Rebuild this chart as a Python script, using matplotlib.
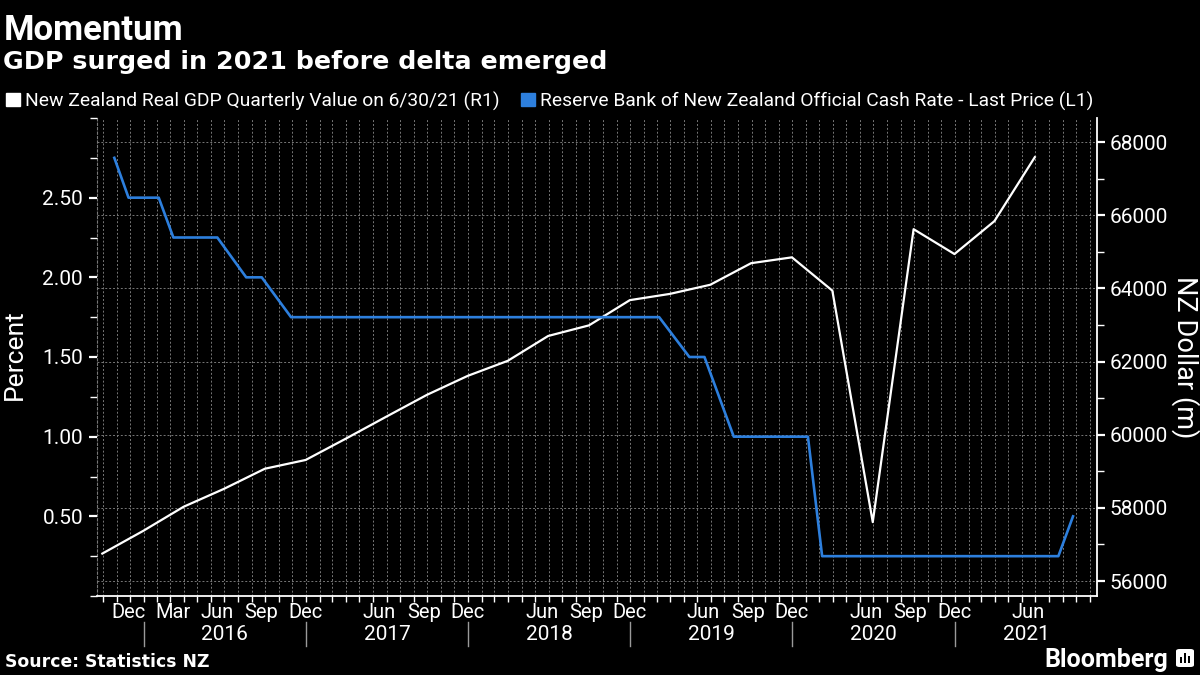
import matplotlib
matplotlib.use('Agg')
import matplotlib.pyplot as plt
import matplotlib.dates as mdates
import matplotlib.ticker as mticker
import matplotlib.transforms as mtransforms
from matplotlib.patches import Patch, FancyBboxPatch, Rectangle
import pandas as pd

plt.rcParams['font.family'] = ['Roboto', 'DejaVu Sans']

# NZ real GDP, quarterly, NZ$m (right axis)
gdp_dates = ['2015-09-30', '2015-12-31', '2016-03-31', '2016-06-30', '2016-09-30', '2016-12-31',
             '2017-03-31', '2017-06-30', '2017-09-30', '2017-12-31', '2018-03-31', '2018-06-30',
             '2018-09-30', '2018-12-31', '2019-03-31', '2019-06-30', '2019-09-30', '2019-12-31',
             '2020-03-31', '2020-06-30', '2020-09-30', '2020-12-31', '2021-03-31', '2021-06-30']
gdp_values = [56750, 57370, 58030, 58520, 59070, 59310,
              59890, 60490, 61090, 61610, 62020, 62700,
              62990, 63680, 63850, 64100, 64690, 64850,
              63940, 57610, 65620, 64940, 65840, 67590]

# RBNZ official cash rate, % (left axis)
ocr_dates = ['2015-10-27', '2015-11-28', '2016-02-04', '2016-03-08', '2016-06-15', '2016-08-19',
             '2016-09-23', '2016-11-28', '2019-03-07', '2019-05-14', '2019-06-17', '2019-08-22',
             '2020-02-05', '2020-03-08', '2021-08-22', '2021-09-24']
ocr_values = [2.75, 2.50, 2.50, 2.25, 2.25, 2.00,
              2.00, 1.75, 1.75, 1.50, 1.50, 1.00,
              1.00, 0.25, 0.25, 0.50]

# x axis labels
month_tick_dates = ['2015-11-28', '2016-03-07', '2016-06-15', '2016-09-22', '2016-12-31',
                    '2017-06-15', '2017-09-24', '2017-12-31', '2018-06-16', '2018-09-23', '2018-12-31',
                    '2019-06-15', '2019-09-23', '2019-12-31', '2020-06-16', '2020-09-23', '2020-12-31',
                    '2021-06-14']
month_tick_labels = ['Dec', 'Mar', 'Jun', 'Sep', 'Dec',
                     'Jun', 'Sep', 'Dec', 'Jun', 'Sep', 'Dec',
                     'Jun', 'Sep', 'Dec', 'Jun', 'Sep', 'Dec',
                     'Jun']
years = [2016, 2017, 2018, 2019, 2020, 2021]

x_start = pd.Timestamp('2015-09-18')
x_end = pd.Timestamp('2021-11-17')

white = '#ffffff'
blue = '#2d7fdd'
gridc = '#777777'
bold_font = ['DejaVu Sans']

fig = plt.figure(figsize=(12, 6.75), dpi=100, facecolor='black')
ax = fig.add_axes([97/1200, 79/675, 1000/1200, 478/675])
ax.set_facecolor('black')
ax2 = ax.twinx()

# GDP on the right-hand scale
ax.plot(pd.to_datetime(gdp_dates), gdp_values, color=white, lw=1.6, zorder=3)
ax.yaxis.tick_right()
ax.yaxis.set_label_position('right')
ax.set_ylim(55590, 68660)
ax.yaxis.set_major_locator(mticker.FixedLocator([56000, 58000, 60000, 62000, 64000, 66000, 68000]))
ax.yaxis.set_minor_locator(mticker.MultipleLocator(1000))
ax.yaxis.set_major_formatter(mticker.FuncFormatter(lambda v, p: '%d' % v))

# OCR on the left-hand scale
ax2.plot(pd.to_datetime(ocr_dates), ocr_values, color=blue, lw=1.9, zorder=3)
ax2.yaxis.tick_left()
ax2.set_ylim(0, 3)
ax2.yaxis.set_major_locator(mticker.FixedLocator([0.5, 1.0, 1.5, 2.0, 2.5]))
ax2.yaxis.set_minor_locator(mticker.MultipleLocator(0.25))
ax2.yaxis.set_major_formatter(mticker.FormatStrFormatter('%.2f'))

ax.set_xlim(x_start, x_end)
ax.xaxis.set_major_locator(mticker.FixedLocator(mdates.date2num(pd.to_datetime(month_tick_dates))))
ax.xaxis.set_major_formatter(mticker.FixedFormatter(month_tick_labels))
ax.xaxis.set_minor_locator(mdates.MonthLocator())

# grid
ax.grid(which='minor', axis='x', color=gridc, lw=0.7, linestyle=(0, (2, 2)))
ax.grid(which='major', axis='y', color=gridc, lw=0.7, linestyle=(0, (2, 2)))

for a in (ax, ax2):
    for s in a.spines.values():
        s.set_visible(False)
ax.spines['right'].set_visible(True)
ax.spines['right'].set_color(white)
ax.spines['right'].set_linewidth(1.3)
ax.spines['bottom'].set_visible(True)
ax.spines['bottom'].set_color(white)
ax.spines['bottom'].set_linewidth(1.3)
ax.spines['left'].set_visible(True)
ax.spines['left'].set_color(gridc)
ax.spines['left'].set_linewidth(0.8)
ax.spines['left'].set_linestyle((0, (2, 2)))

ax.tick_params(axis='x', which='major', length=0, pad=5, labelsize=14.5, labelcolor=white)
ax.tick_params(axis='x', which='minor', length=4, width=1, color=white, direction='out')
ax.tick_params(axis='y', which='major', length=6, width=1.6, color=white, pad=3,
               labelsize=15, labelcolor=white)
ax.tick_params(axis='y', which='minor', length=5, width=1, color=white)
ax2.tick_params(axis='y', which='major', length=6, width=1.6, color=white, pad=4,
                labelsize=15, labelcolor=white)
ax2.tick_params(axis='y', which='minor', length=5, width=1, color=white)

# year labels and separators under the month labels
trans = mtransforms.blended_transform_factory(ax.transData, ax.transAxes)
for i, yr in enumerate(years):
    left = mdates.date2num(pd.Timestamp('%d-01-01' % yr))
    if yr == years[-1]:
        right = mdates.date2num(x_end)
    else:
        right = mdates.date2num(pd.Timestamp('%d-01-01' % (yr + 1)))
    ax.text((left + right) / 2, -0.081, str(yr), transform=trans, ha='center', va='center',
            color=white, fontsize=15)
    ax.plot([left, left], [-0.054, -0.105], transform=trans, color='#9a9a9a', lw=1, clip_on=False)

# titles
fig.text(4/1200, 1 - 40/675, 'Momentum', color=white, fontsize=25, fontweight='bold',
         va='baseline')
fig.text(3/1200, 1 - 69/675, 'GDP surged in 2021 before delta emerged', color=white, fontsize=18.3,
         fontweight='bold', va='baseline', family=bold_font)

handles = [Patch(facecolor=white, edgecolor=white),
           Patch(facecolor=blue, edgecolor=blue)]
labels = ['New Zealand Real GDP Quarterly Value on 6/30/21 (R1)',
          'Reserve Bank of New Zealand Official Cash Rate - Last Price (L1)']
fig.legend(handles, labels, loc='center left', bbox_to_anchor=(6/1200, 1 - 101/675), ncol=2,
           frameon=False, fontsize=13.9, labelcolor=white, handlelength=0.7, handleheight=0.7,
           handletextpad=0.3, columnspacing=1.1, borderaxespad=0, borderpad=0)

fig.text(15/1200, 1 - 355/675, 'Percent', color=white, fontsize=19, rotation=90,
         ha='center', va='center')
fig.text(1185/1200, 1 - 357/675, 'NZ Dollar (m)', color=white, fontsize=19.5, rotation=-90,
         ha='center', va='center')

fig.text(5/1200, 1 - 667/675, 'Source: Statistics NZ', color=white, fontsize=12.4,
         fontweight='bold', va='baseline', family=bold_font)
fig.text(1168/1200, 1 - 667/675, 'Bloomberg', color=white, fontsize=18, fontweight='bold',
         va='baseline', ha='right')

# small logo box next to Bloomberg
fig.patches.append(FancyBboxPatch((1176/1200, 1 - 667/675), 18/1200, 18/675,
                                  boxstyle='round,pad=0,rounding_size=0.003',
                                  transform=fig.transFigure, facecolor=white, edgecolor='none'))
for bx, bh in [(1180, 6), (1184, 10), (1188, 7)]:
    fig.patches.append(Rectangle((bx/1200, 1 - 663/675), 2/1200, bh/675,
                                 transform=fig.transFigure, facecolor='black', edgecolor='none'))

fig.savefig('out.png', dpi=100, facecolor='black')
